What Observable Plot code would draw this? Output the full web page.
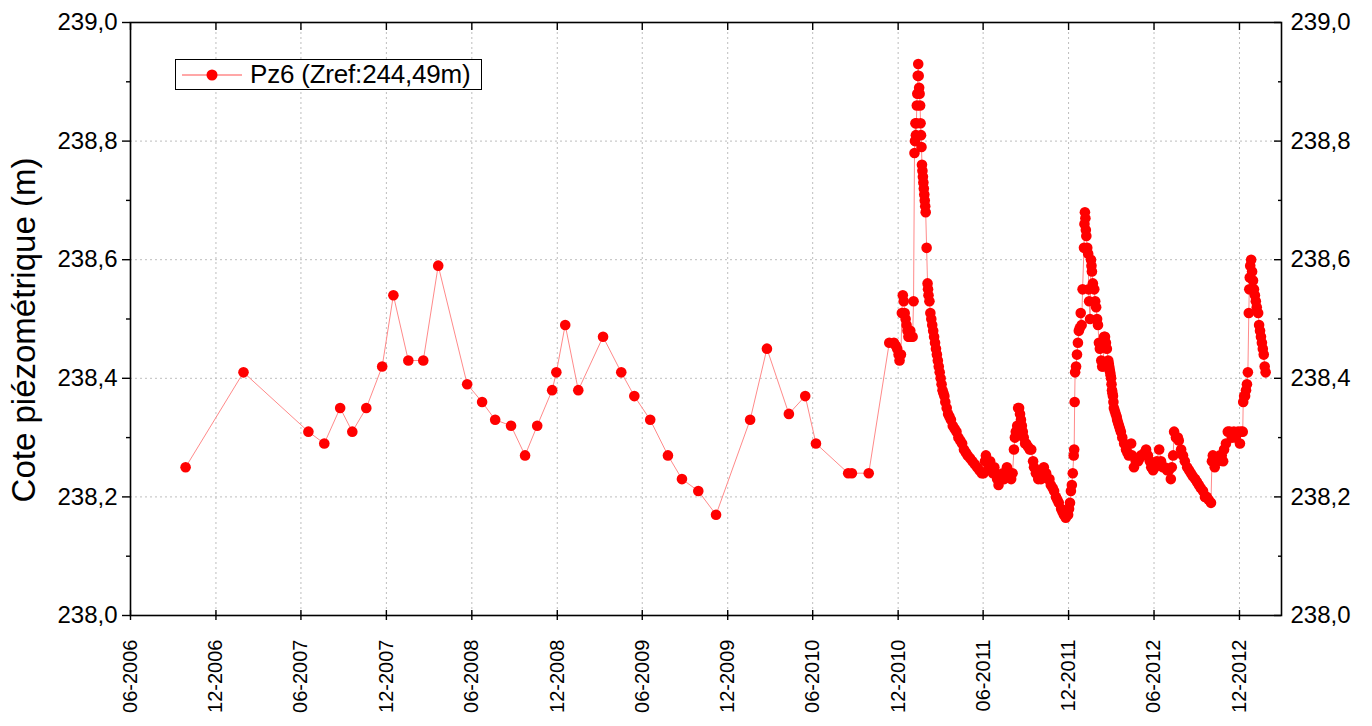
<!DOCTYPE html>
<html><head><meta charset="utf-8">
<script src="https://cdn.jsdelivr.net/npm/d3@7"></script>
<script src="https://cdn.jsdelivr.net/npm/@observablehq/plot@0.6"></script>
<style>
body{margin:0;background:#fff;}
#wrap{position:relative;width:1372px;height:726px;font-family:"Liberation Sans",Arial,sans-serif;}
#legend{position:absolute;left:175px;top:59px;width:305px;height:29px;border:1.5px solid #000;background:#fff;display:flex;align-items:center;font-size:26px;color:#000;}
#legend svg{flex:none;}
#legend span{margin-left:0px;white-space:nowrap;letter-spacing:-0.2px;}
</style></head><body><div id="wrap"><div id="legend"></div></div>
<script>
const seriesName = "Pz6 (Zref:244,49m)";
const yTitle = "Cote piézométrique (m)";
const xTickDates = ["2006-06-01","2006-12-01","2007-06-01","2007-12-01","2008-06-01","2008-12-01","2009-06-01","2009-12-01","2010-06-01","2010-12-01","2011-06-01","2011-12-01","2012-06-01","2012-12-01"];
const xDomain = ["2006-06-01","2013-03-01"];
const yMajor = [238.0,238.2,238.4,238.6,238.8,239.0];
const yMinor = [238.1,238.3,238.5,238.7,238.9];
const yGrid = [238.2,238.4,238.6,238.8];

const dates = [
"2006-09-27","2007-01-29","2007-06-17","2007-07-21","2007-08-24","2007-09-19","2007-10-19","2007-11-22","2007-12-16",
"2008-01-17","2008-02-18","2008-03-21","2008-05-22","2008-06-23","2008-07-21","2008-08-24","2008-09-23","2008-10-19",
"2008-11-20","2008-11-29","2008-12-18","2009-01-15","2009-03-09","2009-04-17","2009-05-15","2009-06-18","2009-07-26",
"2009-08-25","2009-09-29","2009-11-06","2010-01-18","2010-02-23","2010-04-11","2010-05-16","2010-06-08","2010-08-16",
"2010-08-24","2010-09-29",
"2010-11-12","2010-11-22","2010-11-26","2010-11-29","2010-12-02","2010-12-04","2010-12-07","2010-12-09","2010-12-11",
"2010-12-13","2010-12-15","2010-12-17","2010-12-19","2010-12-21","2010-12-23","2010-12-25","2010-12-27","2010-12-29",
"2011-01-01","2011-01-03","2011-01-05","2011-01-06","2011-01-07","2011-01-08","2011-01-09","2011-01-10","2011-01-11",
"2011-01-12","2011-01-13","2011-01-14","2011-01-15","2011-01-16","2011-01-17","2011-01-18","2011-01-19","2011-01-20",
"2011-01-21","2011-01-22","2011-01-23","2011-01-24","2011-01-25","2011-01-26","2011-01-27","2011-01-28","2011-01-29",
"2011-01-31","2011-02-02","2011-02-03","2011-02-04","2011-02-06","2011-02-08","2011-02-10","2011-02-12","2011-02-14",
"2011-02-16","2011-02-18","2011-02-20","2011-02-22","2011-02-24","2011-02-26","2011-02-28","2011-03-02","2011-03-04",
"2011-03-06","2011-03-08","2011-03-10","2011-03-12","2011-03-15","2011-03-18","2011-03-21","2011-03-24","2011-03-28",
"2011-04-01","2011-04-05","2011-04-09","2011-04-13","2011-04-17","2011-04-21","2011-04-25","2011-04-29","2011-05-04",
"2011-05-09","2011-05-14","2011-05-19","2011-05-24","2011-05-29","2011-06-02","2011-06-05","2011-06-07","2011-06-10",
"2011-06-13","2011-06-16","2011-06-19","2011-06-22","2011-06-25","2011-06-28","2011-07-01","2011-07-04","2011-07-07",
"2011-07-10","2011-07-13","2011-07-16","2011-07-19","2011-07-22","2011-07-25","2011-07-28","2011-07-31","2011-08-03",
"2011-08-06","2011-08-08","2011-08-10","2011-08-13","2011-08-15","2011-08-17","2011-08-19","2011-08-21","2011-08-23",
"2011-08-25","2011-08-27","2011-08-30","2011-09-01","2011-09-05","2011-09-09","2011-09-12","2011-09-16","2011-09-18",
"2011-09-22","2011-09-27","2011-10-03","2011-10-06","2011-10-09","2011-10-14","2011-10-18","2011-10-21","2011-10-24",
"2011-10-28","2011-10-31","2011-11-04","2011-11-07","2011-11-10","2011-11-15","2011-11-18","2011-11-21","2011-11-25",
"2011-11-30","2011-12-02","2011-12-04","2011-12-06","2011-12-08","2011-12-10","2011-12-12","2011-12-13","2011-12-14",
"2011-12-15","2011-12-17","2011-12-19","2011-12-21","2011-12-23","2011-12-25","2011-12-27","2011-12-29","2011-12-31",
"2012-01-03","2012-01-04","2012-01-05","2012-01-06","2012-01-07","2012-01-08","2012-01-10","2012-01-12","2012-01-13",
"2012-01-14","2012-01-16","2012-01-18","2012-01-19","2012-01-20","2012-01-22","2012-01-25","2012-01-27","2012-01-29",
"2012-01-31","2012-02-02","2012-02-04","2012-02-06","2012-02-09","2012-02-11","2012-02-13","2012-02-15","2012-02-17",
"2012-02-19","2012-02-21","2012-02-24","2012-02-25","2012-02-26","2012-02-27","2012-02-28","2012-02-29","2012-03-01",
"2012-03-02","2012-03-03","2012-03-04","2012-03-05","2012-03-06","2012-03-07","2012-03-09","2012-03-11","2012-03-13",
"2012-03-14","2012-03-16","2012-03-18","2012-03-20","2012-03-22","2012-03-25","2012-03-29","2012-04-02","2012-04-05",
"2012-04-08","2012-04-13","2012-04-15","2012-04-19","2012-04-23","2012-04-28","2012-05-01","2012-05-04","2012-05-08",
"2012-05-12","2012-05-15","2012-05-19","2012-05-23","2012-05-26","2012-05-30","2012-06-03","2012-06-07","2012-06-12",
"2012-06-16","2012-06-20","2012-06-24","2012-06-29","2012-07-03","2012-07-07","2012-07-09","2012-07-12","2012-07-14",
"2012-07-18","2012-07-22","2012-07-24","2012-07-29","2012-08-02","2012-08-06","2012-08-11","2012-08-15","2012-08-19",
"2012-08-23","2012-08-28","2012-09-01","2012-09-05","2012-09-09","2012-09-14","2012-09-18","2012-09-22","2012-09-26",
"2012-10-01","2012-10-03","2012-10-05","2012-10-09","2012-10-14","2012-10-16","2012-10-20","2012-10-24","2012-10-27",
"2012-10-29","2012-11-02","2012-11-06","2012-11-10","2012-11-15","2012-11-19","2012-11-23","2012-11-28","2012-12-02",
"2012-12-04","2012-12-08","2012-12-09","2012-12-11","2012-12-13","2012-12-15","2012-12-17","2012-12-19","2012-12-21",
"2012-12-22","2012-12-23","2012-12-24","2012-12-26","2012-12-28","2012-12-30","2013-01-01","2013-01-03","2013-01-05",
"2013-01-07","2013-01-10","2013-01-12","2013-01-14","2013-01-16","2013-01-18","2013-01-20","2013-01-22","2013-01-24",
"2013-01-26"
];
const levels = [
238.25,238.41,238.31,238.29,238.35,238.31,238.35,238.42,238.54,
238.43,238.43,238.59,238.39,238.36,238.33,238.32,238.27,238.32,
238.38,238.41,238.49,238.38,238.47,238.41,238.37,238.33,238.27,
238.23,238.21,238.17,238.33,238.45,238.34,238.37,238.29,238.24,
238.24,238.24,
238.46,238.46,238.455,238.45,238.44,238.43,238.44,238.51,238.54,
238.53,238.51,238.50,238.49,238.48,238.47,238.47,238.48,238.47,
238.47,238.53,238.78,238.80,238.83,238.81,238.83,238.86,238.88,
238.91,238.93,238.91,238.89,238.88,238.86,238.83,238.81,238.79,
238.76,238.75,238.74,238.73,238.72,238.71,238.70,238.69,238.68,
238.62,238.56,238.55,238.54,238.53,238.51,238.50,238.49,238.48,
238.47,238.46,238.45,238.44,238.43,238.42,238.41,238.40,238.39,
238.38,238.375,238.37,238.36,238.35,238.34,238.335,238.33,238.32,
238.315,238.31,238.30,238.295,238.29,238.28,238.275,238.27,238.265,
238.26,238.255,238.25,238.245,238.24,238.24,238.26,238.27,238.26,
238.25,238.26,238.25,238.24,238.25,238.24,238.23,238.22,238.23,
238.23,238.24,238.23,238.24,238.25,238.24,238.24,238.23,238.24,
238.28,238.30,238.31,238.32,238.35,238.35,238.34,238.33,238.32,
238.31,238.30,238.29,238.29,238.285,238.28,238.28,238.26,238.25,
238.24,238.23,238.23,238.24,238.25,238.24,238.23,238.23,238.22,
238.215,238.21,238.20,238.195,238.19,238.18,238.175,238.17,238.165,
238.17,238.18,238.19,238.21,238.22,238.24,238.27,238.28,238.36,
238.41,238.42,238.44,238.46,238.48,238.485,238.51,238.49,238.55,
238.62,238.66,238.68,238.67,238.65,238.64,238.62,238.61,238.55,
238.53,238.50,238.60,238.59,238.58,238.56,238.55,238.53,238.52,
238.50,238.49,238.46,238.45,238.43,238.42,238.42,238.47,238.47,
238.46,238.45,238.43,238.425,238.42,238.415,238.41,238.405,238.40,
238.39,238.38,238.375,238.37,238.36,238.35,238.345,238.34,238.335,
238.33,238.325,238.32,238.315,238.31,238.30,238.29,238.28,238.275,
238.27,238.29,238.27,238.25,238.26,238.26,238.265,238.27,238.27,
238.275,238.28,238.27,238.26,238.25,238.245,238.25,238.26,238.28,
238.26,238.25,238.25,238.245,238.245,238.23,238.25,238.27,238.31,
238.30,238.30,238.295,238.28,238.27,238.26,238.25,238.245,238.24,
238.235,238.23,238.225,238.22,238.215,238.21,238.20,238.20,238.195,
238.19,238.26,238.27,238.25,238.26,238.26,238.27,238.27,238.26,
238.28,238.29,238.31,238.31,238.30,238.31,238.30,238.31,238.29,
238.31,238.31,238.36,238.37,238.37,238.38,238.39,238.41,238.51,
238.55,238.57,238.59,238.60,238.58,238.565,238.55,238.54,238.53,
238.52,238.51,238.49,238.48,238.47,238.46,238.45,238.44,238.42,
238.41
];

const data = dates.map((d, i) => ({date: new Date(d), level: levels[i]}));
const xTicks = xTickDates.map(d => new Date(d));
const fmtX = d3.utcFormat("%m-%Y");
const fmtY = v => v.toFixed(1).replace(".", ",");

const W = 1372, H = 726, mL = 130, mR = 91, mT = 22, mB = 111;
const pw = W - mL - mR, ph = H - mT - mB;
const lineColor = "#ff8a8a", dotColor = "#ff0000", gridColor = "#bdbdbd";
const font = "'Liberation Sans', Arial, sans-serif";

const chart = Plot.plot({
  width: W, height: H,
  marginLeft: mL, marginRight: mR, marginTop: mT, marginBottom: mB,
  style: {fontFamily: font, fontSize: "24px", color: "#000", background: "#fff", overflow: "visible"},
  x: {type: "utc", domain: xDomain.map(d => new Date(d))},
  y: {domain: [238, 239]},
  marks: [
    Plot.gridX(xTicks, {stroke: gridColor, strokeOpacity: 1, strokeDasharray: "2,3", strokeWidth: 1}),
    Plot.gridY(yGrid, {stroke: gridColor, strokeOpacity: 1, strokeDasharray: "2,3", strokeWidth: 1}),
    Plot.line(data, {x: "date", y: "level", stroke: lineColor, strokeWidth: 1}),
    Plot.dot(data, {x: "date", y: "level", r: 5.3, fill: dotColor, stroke: "none"}),
    Plot.frame({stroke: "#000", strokeWidth: 1.6}),
    Plot.ruleX(xTicks, {insetTop: ph - 5, insetBottom: -5, stroke: "#000", strokeWidth: 1.4}),
    Plot.ruleX(xTicks, {insetBottom: ph - 8, stroke: "#000", strokeWidth: 1.4}),
    Plot.ruleY(yMajor, {insetLeft: -8, insetRight: pw, stroke: "#000", strokeWidth: 1.4}),
    Plot.ruleY(yMinor, {insetLeft: -4, insetRight: pw, stroke: "#000", strokeWidth: 1.4}),
    Plot.ruleY(yMajor, {insetLeft: pw - 7, stroke: "#000", strokeWidth: 1.4}),
    Plot.ruleY(yMinor, {insetLeft: pw - 3, stroke: "#000", strokeWidth: 1.4}),
    Plot.axisX(xTicks, {anchor: "bottom", tickSize: 0, tickPadding: 24, tickRotate: -90, tickFormat: fmtX, fontSize: 20, label: null}),
    Plot.axisY(yMajor, {anchor: "left", tickSize: 0, tickPadding: 13, tickFormat: fmtY, fontSize: 24, label: null}),
    Plot.axisY(yMajor, {anchor: "right", tickSize: 0, tickPadding: 9, tickFormat: fmtY, fontSize: 24, label: null}),
    Plot.text([yTitle], {text: d => d, frameAnchor: "left", textAnchor: "middle", rotate: -90, dx: -106, dy: 11, fontSize: 33})
  ]
});
document.getElementById("wrap").prepend(chart);

const legend = document.getElementById("legend");
legend.innerHTML = `<svg width="74" height="29"><line x1="6" x2="66" y1="15" y2="15" stroke="${lineColor}" stroke-width="1.5"/><circle cx="36" cy="15" r="5.5" fill="${dotColor}"/></svg><span></span>`;
legend.querySelector("span").textContent = seriesName;
</script>
</body></html>
